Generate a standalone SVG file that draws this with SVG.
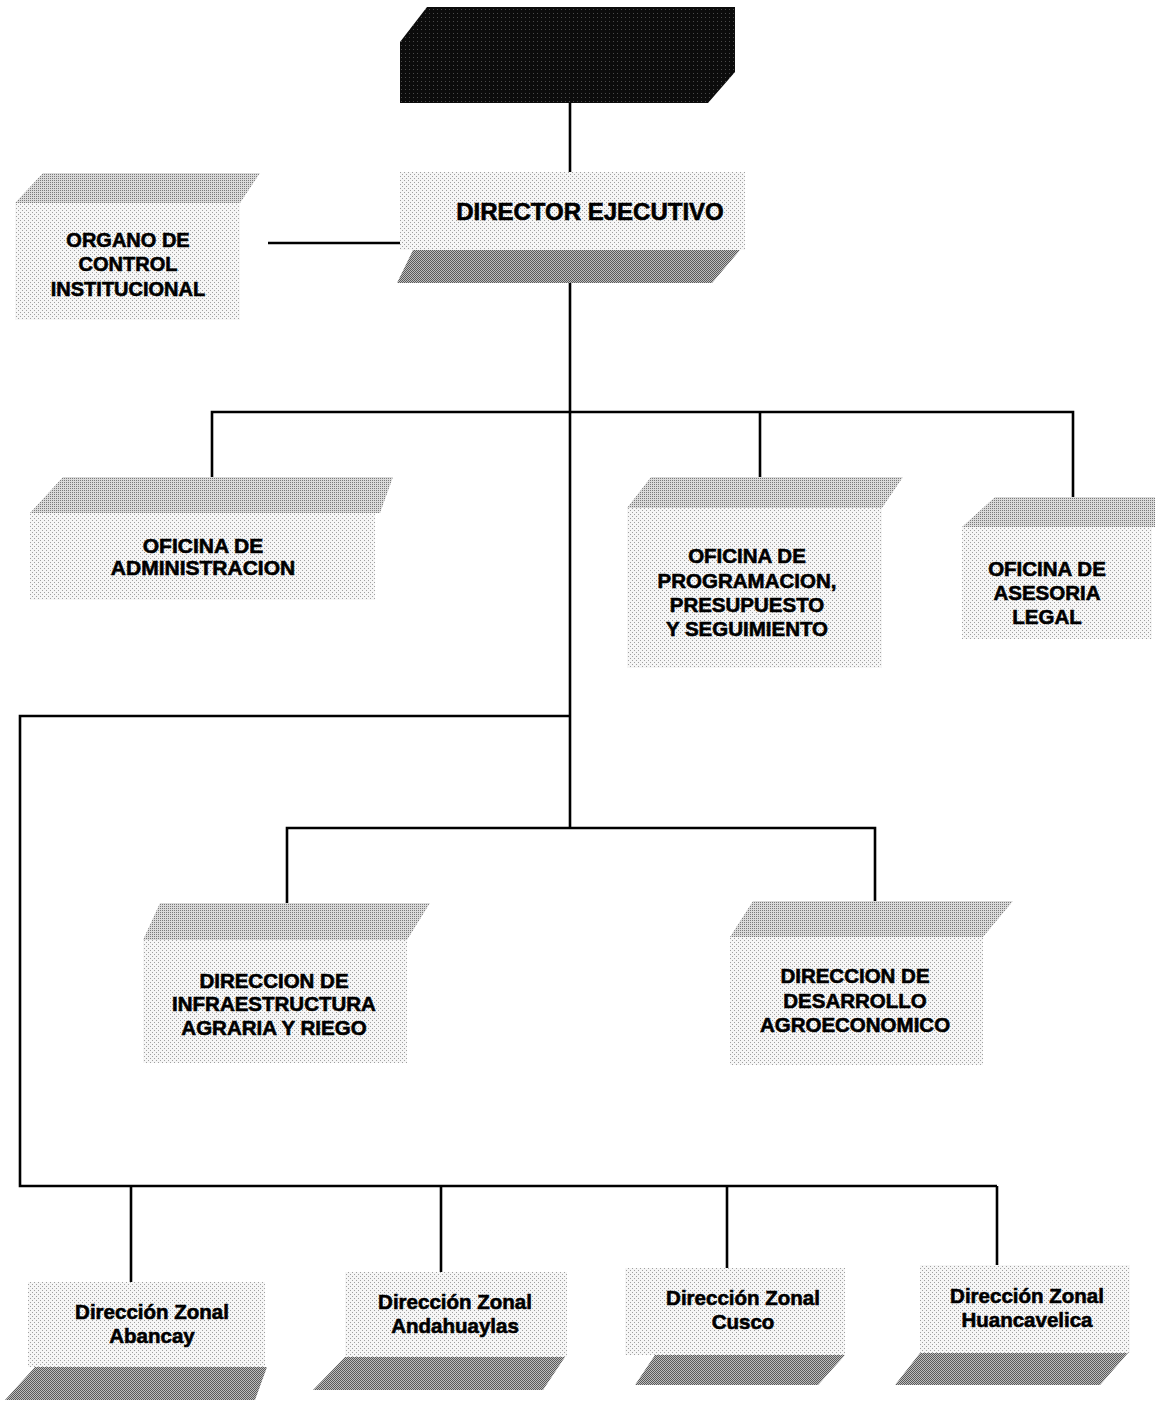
<svg xmlns="http://www.w3.org/2000/svg" width="1155" height="1401" viewBox="0 0 1155 1401">
<defs>
<pattern id="lt" width="4" height="4" patternUnits="userSpaceOnUse"><rect width="4" height="4" fill="#f6f6f6"/><rect x="0" y="0" width="1" height="1" fill="#a0a0a0"/><rect x="2" y="2" width="1" height="1" fill="#a0a0a0"/></pattern>
<pattern id="md" width="2" height="2" patternUnits="userSpaceOnUse"><rect width="2" height="2" fill="#dadada"/><rect x="0" y="0" width="1" height="1" fill="#7a7a7a"/></pattern>
<pattern id="dk" width="2" height="2" patternUnits="userSpaceOnUse"><rect width="2" height="2" fill="#bdbdbd"/><rect x="0" y="0" width="1" height="1" fill="#5a5a5a"/><rect x="1" y="1" width="1" height="1" fill="#5a5a5a"/></pattern>
<pattern id="bk" width="4" height="4" patternUnits="userSpaceOnUse"><rect width="4" height="4" fill="#0c0c0c"/><rect x="1" y="1" width="1" height="1" fill="#4a4a4a"/></pattern>
</defs>
<style>
.body{fill:url(#lt);}
.top{fill:url(#md);}
.bot{fill:url(#dk);}
.blk{fill:url(#bk);}
.t{font-family:"Liberation Sans",Arial,sans-serif;font-weight:bold;font-size:20.5px;fill:#000;stroke:#000;stroke-width:0.6;text-anchor:middle;}
.c{fill:none;stroke:#000;stroke-width:2.6;}
</style>
<rect width="1155" height="1401" fill="#fff"/>

<g id="connectors">
<path class="c" d="M570 103 V172"/>
<path class="c" d="M268 243 H400"/>
<path class="c" d="M570 283 V828"/>
<path class="c" d="M212 478 V412 H1073 V497"/>
<path class="c" d="M760 412 V478"/>
<path class="c" d="M570 716 H20 V1186 H997"/>
<path class="c" d="M131 1186 V1282"/>
<path class="c" d="M441 1186 V1272"/>
<path class="c" d="M727 1186 V1268"/>
<path class="c" d="M997 1186 V1265"/>
<path class="c" d="M287 904 V828 H875 V901"/>
</g>

<g id="top-node">
<polygon class="blk" points="427,7 735,7 735,72 708,103 400,103 400,42"/>
</g>

<g id="director-ejecutivo">
<rect class="body" x="400" y="172" width="345" height="78"/>
<polygon class="bot" points="413,250 740,250 712,283 397,283"/>
<text class="t" x="590" y="220" style="font-size:24px">DIRECTOR EJECUTIVO</text>
</g>

<g id="organo-control">
<polygon class="top" points="43,173 260,173 240,203 15,203"/>
<rect class="body" x="15" y="203" width="225" height="117"/>
<text class="t" x="128" y="247" style="font-size:20px">ORGANO DE</text>
<text class="t" x="128" y="271" style="font-size:20px">CONTROL</text>
<text class="t" x="128" y="296" style="font-size:20px">INSTITUCIONAL</text>
</g>

<g id="oficina-administracion">
<polygon class="top" points="63,477 393,477 380,513 30,513"/>
<rect class="body" x="30" y="513" width="345" height="87"/>
<text class="t" x="203" y="553" style="font-size:21px">OFICINA DE</text>
<text class="t" x="203" y="575" style="font-size:21px">ADMINISTRACION</text>
</g>

<g id="oficina-programacion">
<polygon class="top" points="651,477 903,477 882,508 627,508"/>
<rect class="body" x="627" y="508" width="255" height="160"/>
<text class="t" x="747" y="563">OFICINA DE</text>
<text class="t" x="747" y="588">PROGRAMACION,</text>
<text class="t" x="747" y="612">PRESUPUESTO</text>
<text class="t" x="747" y="636">Y SEGUIMIENTO</text>
</g>

<g id="oficina-asesoria">
<polygon class="top" points="995,497 1155,497 1155,527 962,527"/>
<rect class="body" x="962" y="527" width="190" height="112"/>
<text class="t" x="1047" y="576">OFICINA DE</text>
<text class="t" x="1047" y="600">ASESORIA</text>
<text class="t" x="1047" y="624">LEGAL</text>
</g>

<g id="direccion-infraestructura">
<polygon class="top" points="160,903 430,903 407,940 143,940"/>
<rect class="body" x="143" y="940" width="264" height="123"/>
<text class="t" x="274" y="988">DIRECCION DE</text>
<text class="t" x="274" y="1011">INFRAESTRUCTURA</text>
<text class="t" x="274" y="1035">AGRARIA Y RIEGO</text>
</g>

<g id="direccion-desarrollo">
<polygon class="top" points="753,901 1013,901 983,937 730,937"/>
<rect class="body" x="730" y="937" width="253" height="128"/>
<text class="t" x="855" y="983">DIRECCION DE</text>
<text class="t" x="855" y="1008">DESARROLLO</text>
<text class="t" x="855" y="1032">AGROECONOMICO</text>
</g>

<g id="zonal-abancay">
<rect class="body" x="28" y="1282" width="237" height="85"/>
<polygon class="bot" points="35,1367 267,1367 255,1400 5,1400"/>
<text class="t" x="152" y="1319">Dirección Zonal</text>
<text class="t" x="152" y="1343">Abancay</text>
</g>

<g id="zonal-andahuaylas">
<rect class="body" x="345" y="1272" width="222" height="85"/>
<polygon class="bot" points="345,1357 565,1357 543,1390 313,1390"/>
<text class="t" x="455" y="1309">Dirección Zonal</text>
<text class="t" x="455" y="1333">Andahuaylas</text>
</g>

<g id="zonal-cusco">
<rect class="body" x="625" y="1268" width="220" height="87"/>
<polygon class="bot" points="655,1355 845,1355 818,1385 635,1385"/>
<text class="t" x="743" y="1305">Dirección Zonal</text>
<text class="t" x="743" y="1329">Cusco</text>
</g>

<g id="zonal-huancavelica">
<rect class="body" x="920" y="1265" width="210" height="88"/>
<polygon class="bot" points="920,1353 1128,1353 1100,1385 895,1385"/>
<text class="t" x="1027" y="1303">Dirección Zonal</text>
<text class="t" x="1027" y="1327">Huancavelica</text>
</g>
</svg>
